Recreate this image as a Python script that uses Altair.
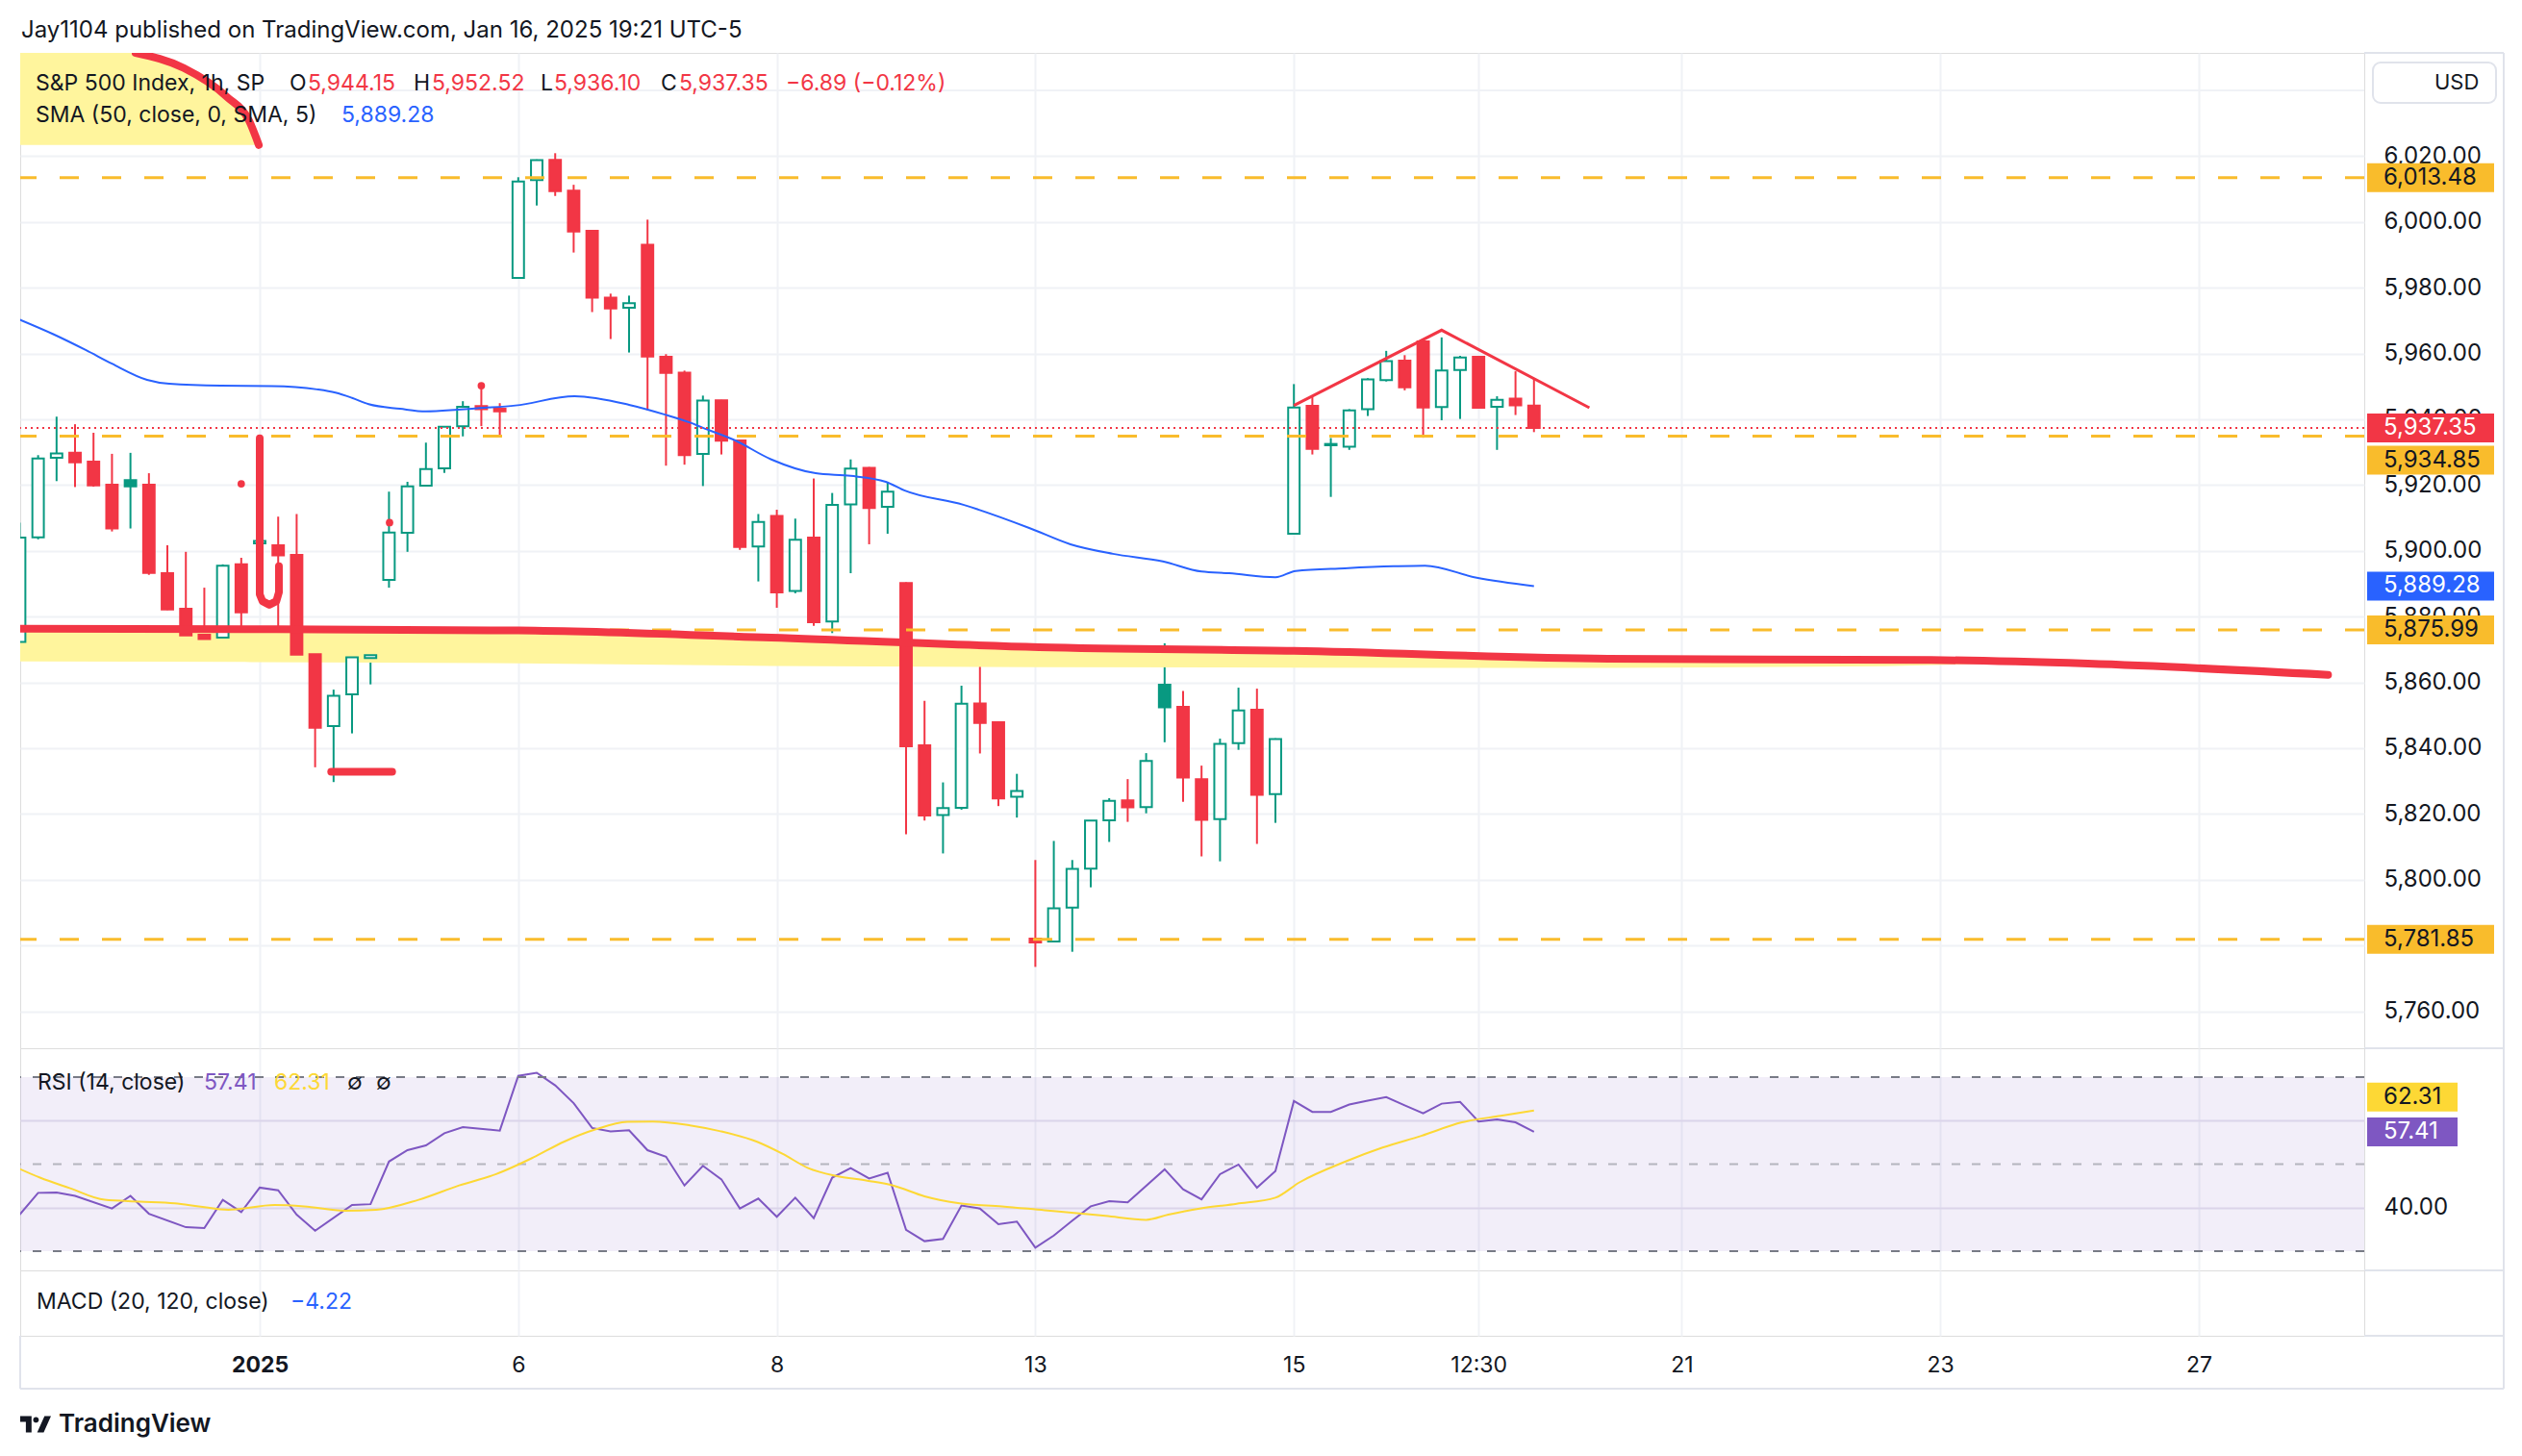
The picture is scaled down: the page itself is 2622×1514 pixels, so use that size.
import altair as alt
import pandas as pd

# ------------------------------------------------------------------ data
# hourly bars, index 0 = first bar of 2 Jan 2025 (7 bars per session)
BAR_INDEX = list(range(-13, 70))
OPEN = [5872.3, 5904.1, 5928.3, 5929.8, 5927.1, 5920.1, 5921.5, 5920.1, 5893.2, 5882.4, 5874.5, 5873.6, 5895.9,
        5902.3, 5901.7, 5898.8, 5868.6, 5846.7, 5856.4, 5867.4,
        5891.2, 5905.5, 5919.8, 5925.1, 5937.9, 5944.0, 5943.2,
        5983.0, 6012.7, 6018.9, 6009.5, 5997.3, 5977.0, 5973.9,
        5993.1, 5959.0, 5954.2, 5929.5, 5945.8, 5933.6, 5901.3,
        5910.6, 5887.8, 5904.0, 5878.5, 5914.1, 5925.2, 5913.4,
        5890.2, 5840.9, 5819.7, 5821.9, 5853.6, 5847.9, 5825.2,
        5782.1, 5781.2, 5791.5, 5803.4, 5818.1, 5824.1, 5822.1,
        5859.3, 5852.6, 5830.6, 5818.4, 5841.5, 5851.7, 5826.0,
        5905.2, 5944.1, 5932.1, 5931.7, 5943.1, 5951.9, 5957.8,
        5963.7, 5943.7, 5955.0, 5959.0, 5943.8, 5946.3, 5944.15]
HIGH = [5908.6, 5929.1, 5940.8, 5938.5, 5935.9, 5929.5, 5929.8, 5923.6, 5901.7, 5899.7, 5888.8, 5895.9, 5897.9,
        5934.9, 5910.4, 5911.2, 5868.6, 5857.8, 5870.3, 5875.9,
        5918.0, 5921.0, 5932.9, 5937.7, 5945.5, 5949.3, 5944.9,
        6013.6, 6019.0, 6020.9, 6011.3, 5997.5, 5978.2, 5977.6,
        6000.7, 5959.8, 5954.8, 5947.2, 5945.9, 5933.7, 5911.2,
        5912.5, 5909.8, 5922.0, 5917.6, 5927.8, 5925.5, 5920.8,
        5890.4, 5854.4, 5829.6, 5859.0, 5866.6, 5848.2, 5832.2,
        5806.0, 5811.8, 5806.0, 5818.0, 5824.8, 5830.6, 5838.5,
        5871.9, 5857.4, 5834.7, 5842.9, 5858.4, 5858.1, 5843.0,
        5950.7, 5946.8, 5934.3, 5943.1, 5952.5, 5960.8, 5959.5,
        5963.9, 5964.9, 5959.3, 5959.2, 5947.0, 5954.6, 5952.52]
LOW = [5871.0, 5903.5, 5921.2, 5919.4, 5919.5, 5905.9, 5906.8, 5892.7, 5882.0, 5872.8, 5870.5, 5869.1, 5873.2,
       5886.9, 5877.1, 5867.6, 5834.2, 5829.7, 5844.5, 5859.4,
       5888.8, 5899.7, 5919.6, 5923.7, 5934.8, 5937.9, 5934.6,
       5982.8, 6005.0, 6007.9, 5990.7, 5972.6, 5964.4, 5960.3,
       5942.8, 5925.9, 5926.2, 5919.7, 5929.3, 5900.3, 5890.7,
       5882.7, 5887.1, 5877.2, 5875.0, 5893.2, 5902.0, 5905.2,
       5813.8, 5818.0, 5808.0, 5821.3, 5838.4, 5822.4, 5818.9,
       5773.5, 5781.0, 5778.1, 5797.7, 5811.5, 5817.6, 5820.2,
       5841.8, 5823.7, 5807.1, 5805.6, 5839.5, 5810.9, 5817.3,
       5905.0, 5929.3, 5916.4, 5930.7, 5941.0, 5951.5, 5948.8,
       5934.4, 5939.7, 5940.1, 5943.3, 5930.7, 5941.3, 5936.10]
CLOSE = [5904.0, 5928.1, 5929.6, 5926.9, 5919.9, 5906.8, 5919.6, 5893.3, 5882.2, 5874.3, 5873.2, 5895.5, 5881.3,
         5903.0, 5898.6, 5868.4, 5846.2, 5855.9, 5867.6, 5868.3,
         5905.6, 5919.6, 5924.9, 5937.7, 5943.8, 5943.1, 5942.4,
         6012.3, 6018.8, 6009.4, 5997.1, 5977.0, 5973.7, 5975.3,
         5959.1, 5954.1, 5929.1, 5945.7, 5933.5, 5901.2, 5908.8,
         5887.4, 5903.4, 5878.3, 5914.0, 5925.0, 5913.0, 5918.0,
         5840.6, 5819.5, 5821.8, 5853.5, 5847.7, 5824.7, 5827.0,
         5780.9, 5791.3, 5803.3, 5818.0, 5824.0, 5822.0, 5836.1,
         5852.4, 5831.1, 5818.2, 5841.3, 5851.5, 5825.8, 5842.8,
         5943.6, 5931.0, 5932.5, 5942.7, 5952.1, 5957.7, 5949.7,
         5943.6, 5954.8, 5958.8, 5943.5, 5945.9, 5944.24, 5937.35]
PREV_CLOSE_BEFORE_FIRST = 5872.0

SMA_IDX = [-13, -11.15, -9.4, -8.0, -6.1, -4.9, -2.1, 0.66, 3.1, 4.1, 5.0, 5.9, 7.6, 9.0, 10.7, 11.9, 13.85,
           17.05, 20.0, 21.9, 23.3, 24.0, 25.7, 27.7, 30.1, 32.0, 33.9, 34.9, 38.1, 41.7, 43.9, 46.2, 48.9,
           51.0, 52.5, 55.0, 56.1, 58.75, 61.4, 63.1, 65.9, 69.0]
SMA_VAL = [5970.3, 5965.8, 5961.0, 5956.9, 5952.0, 5950.8, 5950.2, 5950.1, 5949.1, 5948.1, 5946.5, 5944.6,
           5943.2, 5942.4, 5942.9, 5943.4, 5944.2, 5947.0, 5944.4, 5941.5, 5939.0, 5937.4, 5933.7, 5927.8,
           5923.6, 5922.8, 5921.0, 5918.4, 5914.0, 5906.9, 5902.0, 5899.1, 5896.8, 5893.7, 5893.2, 5892.0,
           5893.9, 5894.7, 5895.3, 5895.5, 5891.8, 5889.28]

RSI_IDX = [-13, -12, -11, -10, -8, -7, -6, -4, -3, -2, -1, 0, 1, 2, 3, 5, 6, 7, 8, 9, 10, 11,
           13, 14, 15, 16, 17, 18, 19, 20, 21, 22, 23, 24, 25, 26, 27, 28, 29, 30, 31, 32, 33, 34, 35, 36,
           37, 38, 39, 40, 41, 42, 43, 44, 45, 46, 47,
           49, 50, 51, 52, 53, 54, 55, 56, 57, 58, 59, 60, 61, 62, 63, 64, 65, 66, 67, 68, 69]
RSI_VAL = [38.4, 43.4, 43.5, 42.7, 39.8, 42.7, 38.6, 35.5, 35.3, 41.8, 39.0, 44.6, 44.0, 38.4, 34.7, 40.6, 40.8,
           50.6, 53.2, 54.3, 57.1, 58.5,
           57.7, 70.3, 71.0, 68.1, 64.0, 58.3, 57.5, 57.8, 53.2, 51.7, 45.1, 49.6, 46.5, 39.8, 42.1, 37.9, 42.3,
           37.6, 46.9, 49.1, 46.7, 48.0, 34.9, 32.3, 32.8, 40.5, 39.8, 36.2, 36.8, 30.8, 33.6, 37.0, 40.3, 41.5,
           41.2,
           48.8, 44.2, 41.9, 47.7, 49.9, 44.6, 48.4, 64.5, 62.0, 62.0, 63.7, 64.6, 65.4, 63.5, 61.7, 63.9, 64.3,
           59.8, 60.3, 59.6, 57.41]
RSI_MA_IDX = [-13, -11.9, -10.3, -8.4, -6.5, -4.6, -3.3, -1.7, 0.8, 2.4, 4.6, 6.3, 8.6, 10.8, 12.8, 14.8, 16.5,
              18.2, 19.9, 21.3, 23.3, 24.9, 26.9, 28.3, 29.7, 31.2, 32.9, 34.3, 36.0, 37.9, 40.2, 42.5, 44.1,
              45.8, 48.0, 49.2, 50.9, 52.9, 55.0, 56.3, 58.8, 60.8, 62.9, 65.1, 67.2, 69.0]
RSI_MA_VAL = [48.9, 46.9, 44.5, 41.8, 41.4, 41.0, 40.3, 39.5, 40.6, 40.3, 39.3, 39.5, 41.8, 45.1, 47.7, 51.5, 55.2,
              58.0, 59.7, 59.8, 58.9, 57.6, 55.2, 52.4, 49.1, 47.3, 46.2, 45.1, 42.6, 41.0, 40.3, 39.4, 38.8,
              38.1, 37.2, 38.4, 39.8, 40.9, 42.3, 45.8, 50.6, 53.8, 56.5, 59.6, 61.1, 62.31]
MACD_LAST = -4.22

LEVELS = [6013.48, 5934.85, 5875.99, 5781.85]
PRICE_TICKS = list(range(5760, 6021, 20))
PRICE_TICKS_HIDDEN = [5780]          # label fully covered by a price box in the reference
EXTRA_GRID = [6040]
RSI_LEVELS = [70, 30]
RSI_MID = [50]
RSI_TICKS = [40, 60]
RSI_TICKS_HIDDEN = [60]
X_TICK_IDX = [0, 14, 28, 42, 56, 66, 77, 91, 105]
X_TICK_LABELS = ["2025", "6", "8", "13", "15", "12:30", "21", "23", "27"]

# hand-drawn annotations (bar index, price)
HL_IDX = [-13, -0.5, 14, 27.7, 42.2, 56, 73, 90.5, 99, 112]
HL_PRICE = [5876.3, 5876.2, 5875.8, 5873.6, 5870.7, 5869.6, 5867.2, 5866.8, 5865.7, 5862.3]
BAND_IDX = [-13, -0.5, 14, 27.7, 42.2, 56, 73, 88, 96]
BAND_TOP = [5876.3, 5876.2, 5875.8, 5873.6, 5870.7, 5869.6, 5867.2, 5866.9, 5866.4]
BAND_BOTTOM = [5866.4, 5866.2, 5865.8, 5865.0, 5864.6, 5864.5, 5864.4, 5864.9, 5866.0]
ARC_IDX = [-6.72, -4.11, -1.77, -0.57, -0.05]
ARC_PRICE = [6051.4, 6046.8, 6038.0, 6030.7, 6023.4]
CORNER_IDX = [-13, -6.72, -4.11, -1.77, -0.57, -0.05]
CORNER_TOP = [6055.0, 6051.4, 6046.8, 6038.0, 6030.7, 6023.4]
CORNER_BOTTOM = [6023.4, 6023.4, 6023.4, 6023.4, 6023.4, 6023.4]
HOOK_IDX = [0.0, 0.0, 0.15, 0.52, 0.9, 1.04, 1.04]
HOOK_PRICE = [5934.2, 5886.8, 5884.7, 5883.6, 5884.7, 5887.4, 5895.3]
SHORT_IDX = [3.87, 7.17]
SHORT_PRICE = [5832.8, 5832.8]
DOT_IDX = [-1, 7.03, 12]
DOT_PRICE = [5920.4, 5908.6, 5950.2]
TRI_IDX = [56.0, 64.0, 72.0]
TRI_PRICE = [5944.2, 5967.1, 5943.5]

# ------------------------------------------------------------------ style / geometry
W = 2437
H_PRICE = 1035
H_RSI = 231
H_MACD = 68
RIGHT_EDGE = 2582
X_DOMAIN = [-12.97, 113.96]
PRICE_DOMAIN = [5748.77, 6051.40]
RSI_DOMAIN = [25.58, 76.63]

FONT = "Inter"
INK = "#131722"
GREEN = "#089981"
RED = "#F23645"
BLUE = "#2962FF"
ORANGE = "#F9BC2C"
PURPLE = "#7E57C2"
YEL = "#FDD835"
HILITE = "#FFF59D"
GRID = "#F0F2F6"
BORDER = "#E0E3EB"
SCALE_FS = 24

xs = alt.Scale(domain=X_DOMAIN, nice=False, zero=False)
ps = alt.Scale(domain=PRICE_DOMAIN, nice=False, zero=False)
rs = alt.Scale(domain=RSI_DOMAIN, nice=False, zero=False)

ONE = pd.DataFrame({"k": [0]})


# layers other than the axis-bearing one leave the axis implicit, so the explicit axis wins the merge
def X(field):
    return alt.X(field, type="quantitative", scale=xs)


def PY(field):
    return alt.Y(field, type="quantitative", scale=ps)


def RY(field):
    return alt.Y(field, type="quantitative", scale=rs)


def txt(s, x, y, color=INK, size=23, weight="normal", align="left"):
    return alt.Chart(ONE).mark_text(
        text=s, align=align, baseline="middle", fontSize=size, fontWeight=weight,
        color=color, font=FONT, clip=False
    ).encode(x=alt.value(x), y=alt.value(y))


def hrule(x1, x2, y, color=BORDER, width=2):
    return alt.Chart(ONE).mark_rule(color=color, strokeWidth=width, clip=False).encode(
        x=alt.value(x1), x2=alt.value(x2), y=alt.value(y))


def vrule(x, y1, y2, color=BORDER, width=2):
    return alt.Chart(ONE).mark_rule(color=color, strokeWidth=width, clip=False).encode(
        x=alt.value(x), y=alt.value(y1), y2=alt.value(y2))


def fmt(v):
    return f"{v:,.2f}".replace("-", "\u2212")


def hide_expr(hidden):
    cond = " || ".join(f"datum.value == {v}" for v in hidden)
    return f"({cond}) ? '' : datum.label"


# ------------------------------------------------------------------ candle table
rows = []
prev = PREV_CLOSE_BEFORE_FIRST
for i, o, h, l, c in zip(BAR_INDEX, OPEN, HIGH, LOW, CLOSE):
    col = GREEN if c >= prev else RED
    rows.append(dict(idx=i, x0=i - 0.31, x1=i + 0.31, low=l, high=h,
                     lo=min(o, c), hi=max(o, c), col=col,
                     fillc="#FFFFFF" if c > o else col))
    prev = c
candles = pd.DataFrame(rows)

PRICE_AXIS = alt.Axis(orient="right", values=PRICE_TICKS, format=",.2f", labelExpr=hide_expr(PRICE_TICKS_HIDDEN),
                      ticks=False, domain=False,
                      grid=True, gridColor=GRID, gridWidth=2, labelPadding=20, labelFontSize=SCALE_FS,
                      labelColor=INK, labelFont=FONT, title=None, labelOverlap=False, labelFlush=False)
X_GRID_AXIS = alt.Axis(values=X_TICK_IDX, labels=False, ticks=False, domain=False, grid=True,
                       gridColor=GRID, gridWidth=2, title=None)

label_expr = " : ".join(f"datum.value == {v} ? '{s}'" for v, s in zip(X_TICK_IDX, X_TICK_LABELS)) + " : ''"
X_LABEL_AXIS = alt.Axis(values=X_TICK_IDX, labelExpr=label_expr, ticks=False, domain=False, grid=True,
                        gridColor=GRID, gridWidth=2, title=None, labelPadding=30, labelBaseline="middle",
                        labelFontSize=23, labelColor=INK, labelFont=FONT, labelFlush=False,
                        labelOverlap=False,
                        labelFontWeight={"condition": {"test": "datum.value == 0", "value": "bold"},
                                         "value": "normal"})

# ------------------------------------------------------------------ price panel
wicks = alt.Chart(candles).mark_rule(strokeWidth=2, clip=True).encode(
    x=alt.X("idx:Q", scale=xs, axis=X_GRID_AXIS),
    y=alt.Y("low:Q", scale=ps, axis=PRICE_AXIS),
    y2="high:Q",
    color=alt.Color("col:N", scale=None))
bodies = alt.Chart(candles).mark_rect(strokeWidth=2, clip=True).encode(
    x=X("x0"), x2="x1", y=PY("lo"), y2="hi",
    fill=alt.Fill("fillc:N", scale=None), stroke=alt.Stroke("col:N", scale=None))

extra_grid = alt.Chart(pd.DataFrame({"p": EXTRA_GRID})).mark_rule(color=GRID, strokeWidth=2).encode(
    y=PY("p"))

corner = alt.Chart(pd.DataFrame({"i": CORNER_IDX, "t": CORNER_TOP, "b": CORNER_BOTTOM})).mark_area(
    color=HILITE, clip=True).encode(x=X("i"), y=PY("t"), y2="b")
band = alt.Chart(pd.DataFrame({"i": BAND_IDX, "t": BAND_TOP, "b": BAND_BOTTOM})).mark_area(
    color=HILITE, clip=True).encode(x=X("i"), y=PY("t"), y2="b")

sma = alt.Chart(pd.DataFrame({"i": SMA_IDX, "v": SMA_VAL})).mark_line(
    color=BLUE, strokeWidth=2, interpolate="monotone", clip=True).encode(x=X("i"), y=PY("v"))

levels = alt.Chart(pd.DataFrame({"p": LEVELS})).mark_rule(
    color=ORANGE, strokeWidth=3, strokeDash=[20, 24]).encode(y=PY("p"))
last_line = alt.Chart(pd.DataFrame({"p": [CLOSE[-1]]})).mark_rule(
    color=RED, strokeWidth=2, strokeDash=[2, 4]).encode(y=PY("p"))

red_line = alt.Chart(pd.DataFrame({"i": HL_IDX, "v": HL_PRICE})).mark_line(
    color=RED, strokeWidth=8, interpolate="monotone", strokeCap="round", clip=True).encode(
    x=X("i"), y=PY("v"))
arc = alt.Chart(pd.DataFrame({"i": ARC_IDX, "v": ARC_PRICE})).mark_line(
    color=RED, strokeWidth=8, interpolate="monotone", strokeCap="round", clip=True).encode(
    x=X("i"), y=PY("v"))
hook = alt.Chart(pd.DataFrame({"i": HOOK_IDX, "v": HOOK_PRICE, "s": list(range(len(HOOK_IDX)))})).mark_line(
    color=RED, strokeWidth=8, strokeCap="round", strokeJoin="round", clip=True).encode(
    x=X("i"), y=PY("v"), order=alt.Order("s:Q"))
short = alt.Chart(pd.DataFrame({"i": SHORT_IDX, "v": SHORT_PRICE})).mark_line(
    color=RED, strokeWidth=8, strokeCap="round", clip=True).encode(x=X("i"), y=PY("v"))
tri = alt.Chart(pd.DataFrame({"i": TRI_IDX, "v": TRI_PRICE})).mark_line(
    color=RED, strokeWidth=3, clip=True).encode(x=X("i"), y=PY("v"))
dots = alt.Chart(pd.DataFrame({"i": DOT_IDX, "v": DOT_PRICE})).mark_circle(
    color=RED, size=60, opacity=1, clip=True).encode(x=X("i"), y=PY("v"))


def price_box(value, bg, fg, offset=0):
    box = alt.Chart(ONE).mark_rule(color=bg, strokeWidth=30, yOffset=offset, clip=False).encode(
        x=alt.value(2440), x2=alt.value(2572), y=alt.Y(datum=value, scale=ps))
    t = alt.Chart(ONE).mark_text(text=fmt(value), align="left", baseline="middle", fontSize=SCALE_FS,
                                 font=FONT, color=fg, yOffset=offset, clip=False).encode(
        x=alt.value(2457), y=alt.Y(datum=value, scale=ps))
    return [box, t]


boxes = []
boxes += price_box(LEVELS[0], ORANGE, INK)
boxes += price_box(CLOSE[-1], RED, "#FFFFFF")
boxes += price_box(LEVELS[1], ORANGE, INK, 25)
boxes += price_box(SMA_VAL[-1], BLUE, "#FFFFFF")
boxes += price_box(LEVELS[2], ORANGE, INK)
boxes += price_box(LEVELS[3], ORANGE, INK)

usd_box = alt.Chart(ONE).mark_rect(fill="#FFFFFF", stroke=BORDER, strokeWidth=2, cornerRadius=8,
                                   clip=False).encode(
    x=alt.value(2446), x2=alt.value(2574), y=alt.value(10), y2=alt.value(52))

chg = CLOSE[-1] - CLOSE[-2]
pct = chg / CLOSE[-2] * 100
legend_price = [
    txt("Jay1104 published on TradingView.com, Jan 16, 2025 19:21 UTC-5", 1, -23, size=24),
    txt("S&P 500 Index, 1h, SP", 16, 32),
    txt("O", 280, 32), txt(fmt(OPEN[-1]), 299, 32, RED),
    txt("H", 409, 32), txt(fmt(HIGH[-1]), 428, 32, RED),
    txt("L", 541, 32), txt(fmt(LOW[-1]), 555, 32, RED),
    txt("C", 666, 32), txt(fmt(CLOSE[-1]), 685, 32, RED),
    txt(f"{fmt(chg)} ({fmt(pct)}%)", 796, 32, RED),
    txt("SMA (50, close, 0, SMA, 5)", 16, 65), txt(fmt(SMA_VAL[-1]), 334, 65, BLUE),
    txt("USD", 2510, 31, size=22),
]
frame_price = [
    hrule(W, RIGHT_EDGE, 0), hrule(W, RIGHT_EDGE, H_PRICE), vrule(RIGHT_EDGE, 0, H_PRICE),
    alt.Chart(ONE).mark_rule(opacity=0, clip=False).encode(
        x=alt.value(-12), x2=alt.value(-11), y=alt.value(-46)),
]

price_panel = alt.layer(
    wicks, extra_grid, corner, band, bodies, sma, levels, last_line,
    red_line, arc, hook, short, tri, dots,
    *boxes, usd_box, *legend_price, *frame_price
).properties(width=W, height=H_PRICE)

# ------------------------------------------------------------------ RSI panel
RSI_AXIS = alt.Axis(orient="right", values=RSI_TICKS, format=".2f", labelExpr=hide_expr(RSI_TICKS_HIDDEN),
                    ticks=False, domain=False, grid=True,
                    gridColor="#E6E3EF", gridWidth=2, labelPadding=20, labelFontSize=SCALE_FS, labelColor=INK,
                    labelFont=FONT, title=None, labelFlush=False, labelOverlap=False)
rsi_line = alt.Chart(pd.DataFrame({"i": RSI_IDX, "v": RSI_VAL})).mark_line(
    color=PURPLE, strokeWidth=2, clip=True).encode(
    x=alt.X("i:Q", scale=xs, axis=X_GRID_AXIS), y=alt.Y("v:Q", scale=rs, axis=RSI_AXIS))
rsi_band = alt.Chart(ONE).mark_rect(color=PURPLE, opacity=0.1).encode(
    x=alt.value(0), x2=alt.value(W), y=alt.Y(datum=70, scale=rs), y2=alt.datum(30))
rsi_lv = alt.Chart(pd.DataFrame({"v": RSI_LEVELS})).mark_rule(
    color="#787B86", strokeWidth=2, strokeDash=[9, 12]).encode(y=RY("v"))
rsi_mid = alt.Chart(pd.DataFrame({"v": RSI_MID})).mark_rule(
    color="#787B86", opacity=0.5, strokeWidth=2, strokeDash=[9, 12]).encode(y=RY("v"))
rsi_ma = alt.Chart(pd.DataFrame({"i": RSI_MA_IDX, "v": RSI_MA_VAL})).mark_line(
    color=YEL, strokeWidth=2, interpolate="monotone", clip=True).encode(x=X("i"), y=RY("v"))


def rsi_box(value, bg, fg, offset=0):
    box = alt.Chart(ONE).mark_rule(color=bg, strokeWidth=30, yOffset=offset, clip=False).encode(
        x=alt.value(2440), x2=alt.value(2534), y=alt.Y(datum=value, scale=rs))
    t = alt.Chart(ONE).mark_text(text=f"{value:.2f}", align="left", baseline="middle", fontSize=SCALE_FS,
                                 font=FONT, color=fg, yOffset=offset, clip=False).encode(
        x=alt.value(2457), y=alt.Y(datum=value, scale=rs))
    return [box, t]


rsi_boxes = rsi_box(RSI_MA_VAL[-1], YEL, INK, -14) + rsi_box(RSI_VAL[-1], PURPLE, "#FFFFFF")
rsi_legend = [
    txt("RSI (14, close)", 18, 36),
    txt(f"{RSI_VAL[-1]:.2f}", 191, 36, PURPLE),
    txt(f"{RSI_MA_VAL[-1]:.2f}", 264, 36, YEL),
    txt("\u2205", 340, 36), txt("\u2205", 370, 36),
]
rsi_panel = alt.layer(
    rsi_line, rsi_band, rsi_lv, rsi_mid, rsi_ma, *rsi_boxes, *rsi_legend,
    hrule(W, RIGHT_EDGE, H_RSI), vrule(RIGHT_EDGE, 0, H_RSI)
).properties(width=W, height=H_RSI)

# ------------------------------------------------------------------ MACD panel + time axis
axis_holder = alt.Chart(pd.DataFrame({"i": X_TICK_IDX})).mark_rule(opacity=0).encode(
    x=alt.X("i:Q", scale=xs, axis=X_LABEL_AXIS), y=alt.value(0), y2=alt.value(1))
TV_LOGO = ("M-1,-0.526 L-0.263,-0.526 L-0.263,0.526 L-0.632,0.526 L-0.632,-0.158 L-1,-0.158 Z "
           "M-0.158,-0.289 A0.184,0.184 0 1,0 0.21,-0.289 A0.184,0.184 0 1,0 -0.158,-0.289 Z "
           "M0.579,-0.526 L1,-0.526 L0.526,0.526 L0.105,0.526 Z")
logo = alt.Chart(ONE).mark_point(shape=TV_LOGO, filled=True, size=1024, color=INK, opacity=1,
                                 clip=False).encode(x=alt.value(16), y=alt.value(160))
macd_panel = alt.layer(
    axis_holder,
    txt("MACD (20, 120, close)", 17, 33),
    txt(fmt(MACD_LAST), 281, 33, BLUE),
    hrule(W, RIGHT_EDGE, H_MACD), hrule(0, RIGHT_EDGE, 123), vrule(0, H_MACD, 123),
    vrule(RIGHT_EDGE, 0, 123),
    logo,
    txt("TradingView", 40, 160, size=26, weight=600),
).properties(width=W, height=H_MACD)

chart = alt.vconcat(price_panel, rsi_panel, macd_panel, spacing=0, bounds="flush", padding=0).configure_view(
    stroke=BORDER, strokeWidth=2).configure(font=FONT, background="#FFFFFF")

chart.save("out.html", embed_options={"renderer": "svg", "actions": False})
